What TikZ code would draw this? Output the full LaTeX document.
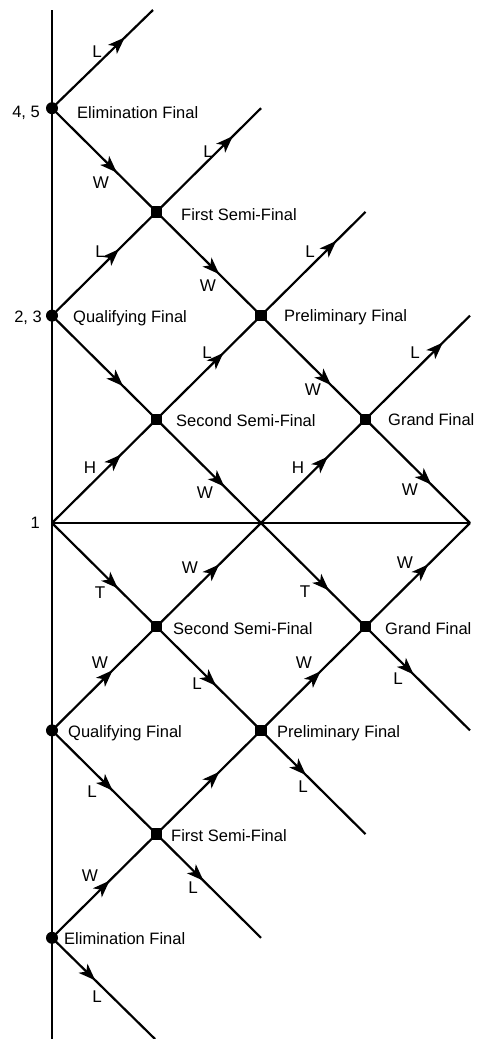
\documentclass[tikz,border=0pt]{standalone}
\usepackage{fontspec}
\setmainfont{Liberation Sans}
\usetikzlibrary{arrows.meta,decorations.markings}
\tikzset{
  conn/.style={line width=2.2pt},
  arr/.style={postaction={decorate},decoration={markings,mark=at position #1 with {\arrow{Stealth[length=17pt,width=12.5pt,inset=4.5pt]}}}},
  cdot/.style={circle,fill=black,minimum size=12pt,inner sep=0pt},
  sdot/.style={rectangle,fill=black,minimum size=11.5pt,inner sep=0pt},
  lbl/.style={font=\fontsize{17}{17}\selectfont,inner sep=0pt},
  gname/.style={font=\fontsize{16.5}{16.5}\selectfont,anchor=base west,inner sep=0pt},
  seed/.style={font=\fontsize{16.5}{16.5}\selectfont,anchor=base east,inner sep=0pt}
}
\begin{document}
\begin{tikzpicture}[x=1pt,y=-1pt]
\useasboundingbox (0,0) rectangle (478,1039);
% grid points
\coordinate (vtop) at (52,10);
\coordinate (vbot) at (52,1039);
\coordinate (EFu) at (52,108.2);
\coordinate (FSFu) at (156.5,211.9);
\coordinate (QFu) at (52,315.6);
\coordinate (PFu) at (261,315.6);
\coordinate (SSFu) at (156.5,419.3);
\coordinate (GFu) at (365.5,419.3);
\coordinate (one) at (52,523);
\coordinate (mid) at (261,523);
\coordinate (rgt) at (470,523);
\coordinate (SSFl) at (156.5,626.7);
\coordinate (GFl) at (365.5,626.7);
\coordinate (QFl) at (52,730.4);
\coordinate (PFl) at (261,730.4);
\coordinate (FSFl) at (156.5,834.1);
\coordinate (EFl) at (52,937.8);
% free ends
\coordinate (endA) at (153,10);
\coordinate (endB) at (261,108.2);
\coordinate (endC) at (365.5,211.9);
\coordinate (endD) at (470,315.6);
\coordinate (endE) at (470,730.4);
\coordinate (endF) at (365.5,834.1);
\coordinate (endG) at (261,937.8);
\coordinate (endH) at (155,1039);
% axes
\draw[conn] (vtop) -- (vbot);
\draw[conn] (one) -- (rgt);
% upper half
\draw[conn,arr=0.72] (EFu) -- (endA);
\draw[conn,arr=0.62] (EFu) -- (FSFu);
\draw[conn,arr=0.73] (FSFu) -- (endB);
\draw[conn,arr=0.64] (QFu) -- (FSFu);
\draw[conn,arr=0.60] (FSFu) -- (PFu);
\draw[conn,arr=0.72] (PFu) -- (endC);
\draw[conn,arr=0.68] (QFu) -- (SSFu);
\draw[conn,arr=0.64] (SSFu) -- (PFu);
\draw[conn,arr=0.67] (PFu) -- (GFu);
\draw[conn,arr=0.74] (GFu) -- (endD);
\draw[conn,arr=0.66] (one) -- (SSFu);
\draw[conn,arr=0.65] (SSFu) -- (mid);
\draw[conn,arr=0.64] (mid) -- (GFu);
\draw[conn,arr=0.63] (GFu) -- (rgt);
% lower half
\draw[conn,arr=0.63] (one) -- (SSFl);
\draw[conn,arr=0.60] (SSFl) -- (mid);
\draw[conn,arr=0.65] (mid) -- (GFl);
\draw[conn,arr=0.60] (GFl) -- (rgt);
\draw[conn,arr=0.46] (GFl) -- (endE);
\draw[conn,arr=0.58] (QFl) -- (SSFl);
\draw[conn,arr=0.57] (SSFl) -- (PFl);
\draw[conn,arr=0.57] (PFl) -- (GFl);
\draw[conn,arr=0.43] (PFl) -- (endF);
\draw[conn,arr=0.58] (QFl) -- (FSFl);
\draw[conn,arr=0.60] (FSFl) -- (PFl);
\draw[conn,arr=0.45] (FSFl) -- (endG);
\draw[conn,arr=0.55] (EFl) -- (FSFl);
\draw[conn,arr=0.42] (EFl) -- (endH);
% dots
\node[cdot] (dEFu) at (EFu) {};
\node[sdot] (dFSFu) at (FSFu) {};
\node[cdot] (dQFu) at (QFu) {};
\node[sdot] (dPFu) at (PFu) {};
\node[sdot] (dSSFu) at (SSFu) {};
\node[sdot] (dGFu) at (GFu) {};
\node[sdot] (dSSFl) at (SSFl) {};
\node[sdot] (dGFl) at (GFl) {};
\node[cdot] (dQFl) at (QFl) {};
\node[sdot] (dPFl) at (PFl) {};
\node[sdot] (dFSFl) at (FSFl) {};
\node[cdot] (dEFl) at (EFl) {};
% game names
\node[gname] (tEFu) at (77,118) {Elimination Final};
\node[gname] (tFSFu) at (181,220.5) {First Semi-Final};
\node[gname] (tQFu) at (73,322.5) {Qualifying Final};
\node[gname] (tPFu) at (284,321.7) {Preliminary Final};
\node[gname] (tSSFu) at (176,426.5) {Second Semi-Final};
\node[gname] (tGFu) at (388,425) {Grand Final};
\node[gname] (tSSFl) at (173,634.3) {Second Semi-Final};
\node[gname] (tGFl) at (385,634.3) {Grand Final};
\node[gname] (tQFl) at (68,737.3) {Qualifying Final};
\node[gname] (tPFl) at (277,737.3) {Preliminary Final};
\node[gname] (tFSFl) at (171,841) {First Semi-Final};
\node[gname] (tEFl) at (64,944) {Elimination Final};
% seeds
\node[seed] (s45) at (40,117.5) {4, 5};
\node[seed] (s23) at (42,322.7) {2, 3};
\node[seed] (s1) at (40,528) {1};
% edge labels upper
\node[lbl] (l1) at (97,52) {L};
\node[lbl] (l2) at (101,183) {W};
\node[lbl] (l3) at (208,152) {L};
\node[lbl] (l4) at (100,252) {L};
\node[lbl] (l5) at (208,286) {W};
\node[lbl] (l6) at (310,252) {L};
\node[lbl] (l8) at (207,353) {L};
\node[lbl] (l9) at (313,390) {W};
\node[lbl] (l10) at (415,353) {L};
\node[lbl] (l11) at (90,468) {H};
\node[lbl] (l12) at (205,493) {W};
\node[lbl] (l13) at (298,468) {H};
\node[lbl] (l14) at (410,490) {W};
% edge labels lower
\node[lbl] (l15) at (100,593) {T};
\node[lbl] (l16) at (190,568) {W};
\node[lbl] (l17) at (305,592) {T};
\node[lbl] (l18) at (405,563) {W};
\node[lbl] (l19) at (398,679) {L};
\node[lbl] (l20) at (100,663) {W};
\node[lbl] (l21) at (197,684) {L};
\node[lbl] (l22) at (304,663) {W};
\node[lbl] (l23) at (303,787) {L};
\node[lbl] (l24) at (92,792) {L};
\node[lbl] (l25) at (193,888) {L};
\node[lbl] (l26) at (90,876) {W};
\node[lbl] (l27) at (97,997) {L};
\end{tikzpicture}
\end{document}
